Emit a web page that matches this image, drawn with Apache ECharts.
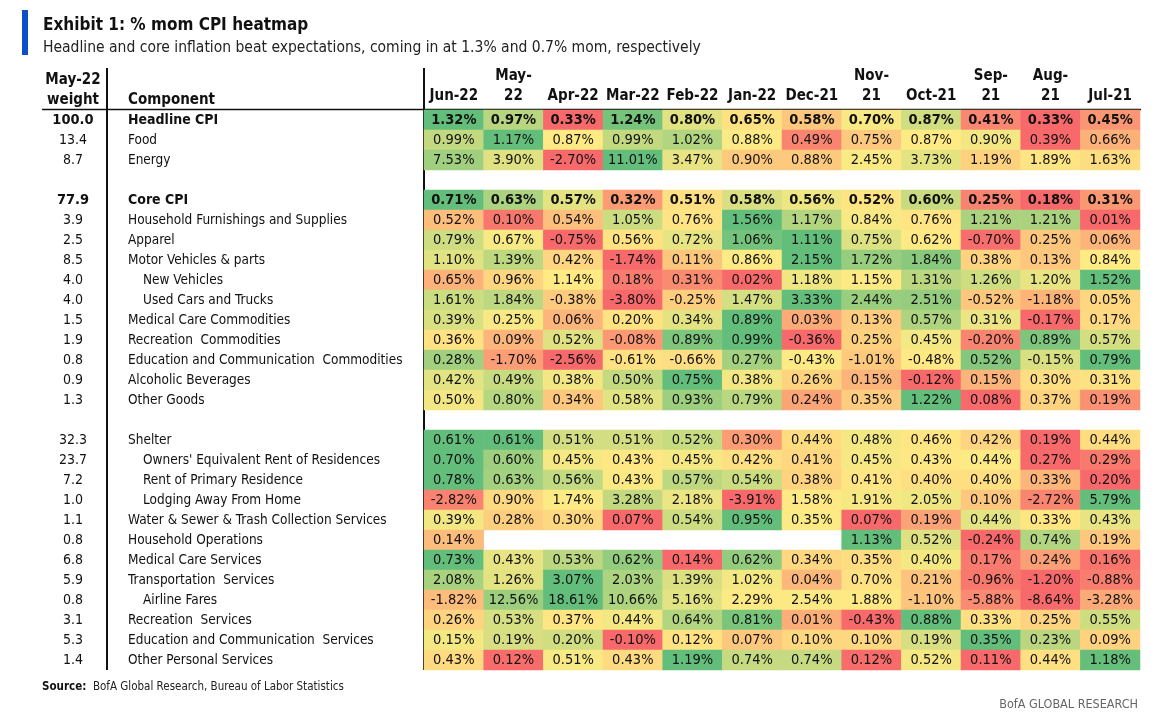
<!DOCTYPE html>
<html>
<head>
<meta charset="utf-8">
<script src="https://cdn.jsdelivr.net/npm/echarts@6/dist/echarts.min.js"></script>
<style>
html,body{margin:0;padding:0;background:#fff;}
#chart{width:1155px;height:720px;}
</style>
</head>
<body>
<div id="chart"></div>
<script>
// ---------- DATA ----------
var months = ['Jun-22','May-22','Apr-22','Mar-22','Feb-22','Jan-22','Dec-21','Nov-21','Oct-21','Sep-21','Aug-21','Jul-21'];
var monthTickLabels = ['Jun-22','May-\n22','Apr-22','Mar-22','Feb-22','Jan-22','Dec-21','Nov-\n21','Oct-21','Sep-\n21','Aug-\n21','Jul-21'];

var components = [
  'Headline CPI','Food','Energy','',
  'Core CPI','Household Furnishings and Supplies','Apparel','Motor Vehicles & parts','New Vehicles','Used Cars and Trucks',
  'Medical Care Commodities','Recreation  Commodities','Education and Communication  Commodities','Alcoholic Beverages','Other Goods','',
  'Shelter',"Owners' Equivalent Rent of Residences",'Rent of Primary Residence','Lodging Away From Home',
  'Water & Sewer & Trash Collection Services','Household Operations','Medical Care Services','Transportation  Services',
  'Airline Fares','Recreation  Services','Education and Communication  Services','Other Personal Services'
];
var weights = ['100.0','13.4','8.7','','77.9','3.9','2.5','8.5','4.0','4.0','1.5','1.9','0.8','0.9','1.3','',
  '32.3','23.7','7.2','1.0','1.1','0.8','6.8','5.9','0.8','3.1','5.3','1.4'];
// hierarchy level: 0 = aggregate, 1 = component, 2 = sub-component
var levels = [0,1,1,1, 0,1,1,1,2,2,1,1,1,1,1,1, 1,2,2,2,1,1,1,1,2,1,1,1];

var values = [
  [1.32,0.97,0.33,1.24,0.80,0.65,0.58,0.70,0.87,0.41,0.33,0.45],
  [0.99,1.17,0.87,0.99,1.02,0.88,0.49,0.75,0.87,0.90,0.39,0.66],
  [7.53,3.90,-2.70,11.01,3.47,0.90,0.88,2.45,3.73,1.19,1.89,1.63],
  null,
  [0.71,0.63,0.57,0.32,0.51,0.58,0.56,0.52,0.60,0.25,0.18,0.31],
  [0.52,0.10,0.54,1.05,0.76,1.56,1.17,0.84,0.76,1.21,1.21,0.01],
  [0.79,0.67,-0.75,0.56,0.72,1.06,1.11,0.75,0.62,-0.70,0.25,0.06],
  [1.10,1.39,0.42,-1.74,0.11,0.86,2.15,1.72,1.84,0.38,0.13,0.84],
  [0.65,0.96,1.14,0.18,0.31,0.02,1.18,1.15,1.31,1.26,1.20,1.52],
  [1.61,1.84,-0.38,-3.80,-0.25,1.47,3.33,2.44,2.51,-0.52,-1.18,0.05],
  [0.39,0.25,0.06,0.20,0.34,0.89,0.03,0.13,0.57,0.31,-0.17,0.17],
  [0.36,0.09,0.52,-0.08,0.89,0.99,-0.36,0.25,0.45,-0.20,0.89,0.57],
  [0.28,-1.70,-2.56,-0.61,-0.66,0.27,-0.43,-1.01,-0.48,0.52,-0.15,0.79],
  [0.42,0.49,0.38,0.50,0.75,0.38,0.26,0.15,-0.12,0.15,0.30,0.31],
  [0.50,0.80,0.34,0.58,0.93,0.79,0.24,0.35,1.22,0.08,0.37,0.19],
  null,
  [0.61,0.61,0.51,0.51,0.52,0.30,0.44,0.48,0.46,0.42,0.19,0.44],
  [0.70,0.60,0.45,0.43,0.45,0.42,0.41,0.45,0.43,0.44,0.27,0.29],
  [0.78,0.63,0.56,0.43,0.57,0.54,0.38,0.41,0.40,0.40,0.33,0.20],
  [-2.82,0.90,1.74,3.28,2.18,-3.91,1.58,1.91,2.05,0.10,-2.72,5.79],
  [0.39,0.28,0.30,0.07,0.54,0.95,0.35,0.07,0.19,0.44,0.33,0.43],
  [0.14,null,null,null,null,null,null,1.13,0.52,-0.24,0.74,0.19],
  [0.73,0.43,0.53,0.62,0.14,0.62,0.34,0.35,0.40,0.17,0.24,0.16],
  [2.08,1.26,3.07,2.03,1.39,1.02,0.04,0.70,0.21,-0.96,-1.20,-0.88],
  [-1.82,12.56,18.61,10.66,5.16,2.29,2.54,1.88,-1.10,-5.88,-8.64,-3.28],
  [0.26,0.53,0.37,0.44,0.64,0.81,0.01,-0.43,0.88,0.33,0.25,0.55],
  [0.15,0.19,0.20,-0.10,0.12,0.07,0.10,0.10,0.19,0.35,0.23,0.09],
  [0.43,0.12,0.51,0.43,1.19,0.74,0.74,0.12,0.52,0.11,0.44,1.18]
];

// ---------- COLOUR SCALE (per row: min red, median yellow, max green) ----------
var LOW = [248,105,107], MID = [255,235,132], HIGH = [99,190,123];
function mix(a,b,t){
  t = Math.max(0, Math.min(1, t));
  return 'rgb(' + [0,1,2].map(function(i){ return Math.round(a[i] + (b[i]-a[i])*t); }).join(',') + ')';
}
function rowColorFn(row){
  var v = row.filter(function(x){ return x !== null; }).slice().sort(function(a,b){ return a-b; });
  var n = v.length, min = v[0], max = v[n-1];
  var med = n % 2 ? v[(n-1)/2] : (v[n/2-1] + v[n/2]) / 2;
  return function(x){
    if (x <= med) return med === min ? mix(LOW,MID,1) : mix(LOW, MID, (x-min)/(med-min));
    return max === med ? mix(MID,HIGH,0) : mix(MID, HIGH, (x-med)/(max-med));
  };
}

var FONT = "'Liberation Sans Narrow','DejaVu Sans Condensed','Roboto Condensed','Open Sans',sans-serif";

var cells = [];
values.forEach(function(row, r){
  if (!row) return;
  var cf = rowColorFn(row);
  row.forEach(function(v, c){
    if (v === null) return;
    cells.push({
      value: [c, r, v],
      itemStyle: { color: cf(v) },
      label: levels[r] === 0 ? { fontWeight: 'bold' } : {}
    });
  });
});

// ---------- CHART ----------
var GRID_LEFT = 424, GRID_TOP = 110, GRID_W = 716, GRID_H = 560;
var chart = echarts.init(document.getElementById('chart'), null, {renderer:'canvas'});
var option = {
  animation: false,
  backgroundColor: '#fff',
  textStyle: { fontFamily: FONT },
  title: {
    text: 'Exhibit 1: % mom CPI heatmap',
    subtext: 'Headline and core inflation beat expectations, coming in at 1.3% and 0.7% mom, respectively',
    left: 38, top: 12, itemGap: 6,
    textStyle: { fontFamily: FONT, fontSize: 17, fontWeight: 'bold', color: '#111' },
    subtextStyle: { fontFamily: FONT, fontSize: 15.5, color: '#222' }
  },
  grid: { left: GRID_LEFT, top: GRID_TOP, width: GRID_W, height: GRID_H, containLabel: false },
  xAxis: {
    type: 'category', position: 'top', data: monthTickLabels,
    axisLine: { show: false }, axisTick: { show: false }, splitLine: { show: false },
    axisLabel: { interval: 0, margin: 4, fontFamily: FONT, fontSize: 15, fontWeight: 'bold', lineHeight: 20, color: '#111' }
  },
  yAxis: [
    {
      type: 'category', inverse: true, data: components, position: 'left', offset: GRID_LEFT - 128,
      axisLine: { show: false }, axisTick: { show: false }, splitLine: { show: false },
      axisLabel: {
        interval: 0, margin: 0, align: 'left', fontFamily: FONT, fontSize: 13.5, color: '#111',
        formatter: function(v, i){
          if (!v) return '';
          var l = levels[i];
          return l === 0 ? '{b|' + v + '}' : (l === 2 ? '{i|' + v + '}' : '{n|' + v + '}');
        },
        rich: {
          b: { fontFamily: FONT, fontSize: 14, fontWeight: 'bold', color: '#111' },
          n: { fontFamily: FONT, fontSize: 13.5, color: '#111' },
          i: { fontFamily: FONT, fontSize: 13.5, color: '#111', padding: [0,0,0,15] }
        }
      }
    },
    {
      type: 'category', inverse: true, data: weights, position: 'left', offset: GRID_LEFT - 73,
      axisLine: { show: false }, axisTick: { show: false }, splitLine: { show: false },
      axisLabel: {
        interval: 0, margin: 0, align: 'center', fontFamily: FONT, fontSize: 14, color: '#111',
        formatter: function(v, i){ return levels[i] === 0 ? '{b|' + v + '}' : v; },
        rich: { b: { fontFamily: FONT, fontSize: 14.5, fontWeight: 'bold', color: '#111' } }
      }
    }
  ],
  series: [{
    type: 'heatmap', xAxisIndex: 0, yAxisIndex: 0,
    data: cells,
    itemStyle: { borderWidth: 0 },
    label: {
      show: true, fontFamily: FONT, fontSize: 14.5, color: '#111',
      formatter: function(p){ return p.value[2].toFixed(2) + '%'; }
    },
    emphasis: { disabled: true }
  }],
  graphic: [
    { type: 'rect', shape: { x: 22, y: 10, width: 6, height: 45 }, style: { fill: '#0b50c8' } },
    { type: 'line', shape: { x1: 107, y1: 68, x2: 107, y2: 670 }, style: { stroke: '#111', lineWidth: 2 } },
    { type: 'line', shape: { x1: 424, y1: 68, x2: 424, y2: 670 }, style: { stroke: '#111', lineWidth: 2 } },
    { type: 'line', shape: { x1: 42, y1: 109.5, x2: 1141, y2: 109.5 }, style: { stroke: '#111', lineWidth: 1.5 } },
    { type: 'text', x: 73, y: 80, style: { text: 'May-22', font: 'bold 15px ' + FONT, fill: '#111', textAlign: 'center', textVerticalAlign: 'middle' } },
    { type: 'text', x: 73, y: 100, style: { text: 'weight', font: 'bold 15px ' + FONT, fill: '#111', textAlign: 'center', textVerticalAlign: 'middle' } },
    { type: 'text', x: 128, y: 100, style: { text: 'Component', font: 'bold 15px ' + FONT, fill: '#111', textAlign: 'left', textVerticalAlign: 'middle' } },
    { type: 'text', x: 42, y: 687, style: {
        text: '{b|Source:}  BofA Global Research, Bureau of Labor Statistics',
        rich: { b: { fontFamily: FONT, fontSize: 11.5, fontWeight: 'bold', fill: '#111' } },
        font: '11.5px ' + FONT, fill: '#222', textVerticalAlign: 'middle' } },
    { type: 'text', x: 1138, y: 705, style: { text: 'BofA GLOBAL RESEARCH', font: '12.5px ' + FONT, fill: '#666', textAlign: 'right', textVerticalAlign: 'middle' } }
  ]
};
chart.setOption(option);
</script>
</body>
</html>
